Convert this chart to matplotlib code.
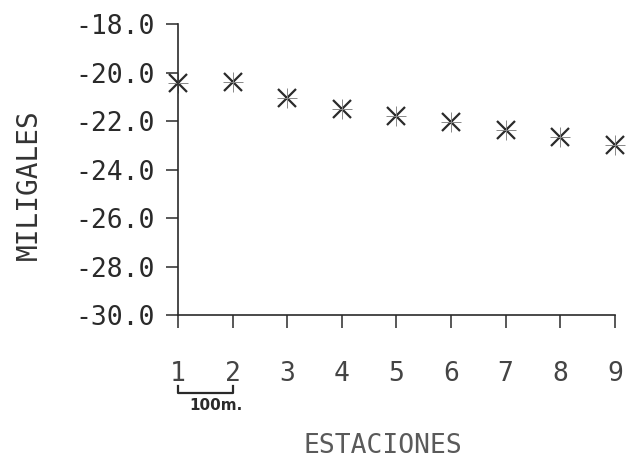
import matplotlib
matplotlib.use("Agg")
import matplotlib.pyplot as plt
import matplotlib.transforms as mtransforms

# Anomalia gravimetrica por estacion
estaciones = [1, 2, 3, 4, 5, 6, 7, 8, 9]
miligales = [-20.43, -20.39, -21.05, -21.50, -21.80, -22.04, -22.37, -22.66, -22.99]

y_ticks = [-30.0, -28.0, -26.0, -24.0, -22.0, -20.0, -18.0]
y_labels = ["-30.0", "-28.0", "-26.0", "-24.0", "-22.0", "-20.0", "-18.0"]
x_labels = ["1", "2", "3", "4", "5", "6", "7", "8", "9"]

ink = "#2a2a2a"
mono = "DejaVu Sans Mono"

fig = plt.figure(figsize=(6.3, 4.65), dpi=100)
ax = fig.add_axes([0.2825, 0.3226, 0.976 - 0.2825, 0.948 - 0.3226])

ax.plot(estaciones, miligales, linestyle="none", marker="x", markersize=13,
        markeredgewidth=1.6, color=ink, clip_on=False)
ax.plot(estaciones, miligales, linestyle="none", marker="+", markersize=14,
        markeredgewidth=0.7, color="#888888", clip_on=False)

ax.set_xlim(1, 9)
ax.set_ylim(-30, -18)

for s in ["top", "right"]:
    ax.spines[s].set_visible(False)
for s in ["left", "bottom"]:
    ax.spines[s].set_linewidth(1.2)
    ax.spines[s].set_color(ink)

ax.set_yticks(y_ticks)
ax.set_yticklabels(y_labels, family=mono, fontsize=19, color=ink)
ax.set_xticks(estaciones)
ax.set_xticklabels(x_labels, family=mono, fontsize=19, color="#444444")
ax.tick_params(axis="y", direction="out", length=9, width=1.1, color=ink, pad=8)
ax.tick_params(axis="x", direction="out", length=9, width=1.1, color=ink, pad=24)

ax.set_ylabel("MILIGALES", family=mono, fontsize=20, color="#333333")
ax.yaxis.set_label_coords(-0.31, 0.447)
ax.set_xlabel("ESTACIONES", family=mono, fontsize=19, color="#5a5a5a")
ax.xaxis.set_label_coords(0.47, -0.405)

# barra de escala entre las estaciones 1 y 2
tr = mtransforms.blended_transform_factory(ax.transData, ax.transAxes)
ax.plot([1, 1, 2, 2], [-0.245, -0.268, -0.268, -0.245], transform=tr,
        color=ink, lw=1.6, clip_on=False)
ax.text(1.69, -0.31, "100m.", transform=tr, ha="center", va="center",
        fontsize=11, fontweight="bold", color=ink)

fig.savefig("out.png", dpi=100, facecolor="white")
